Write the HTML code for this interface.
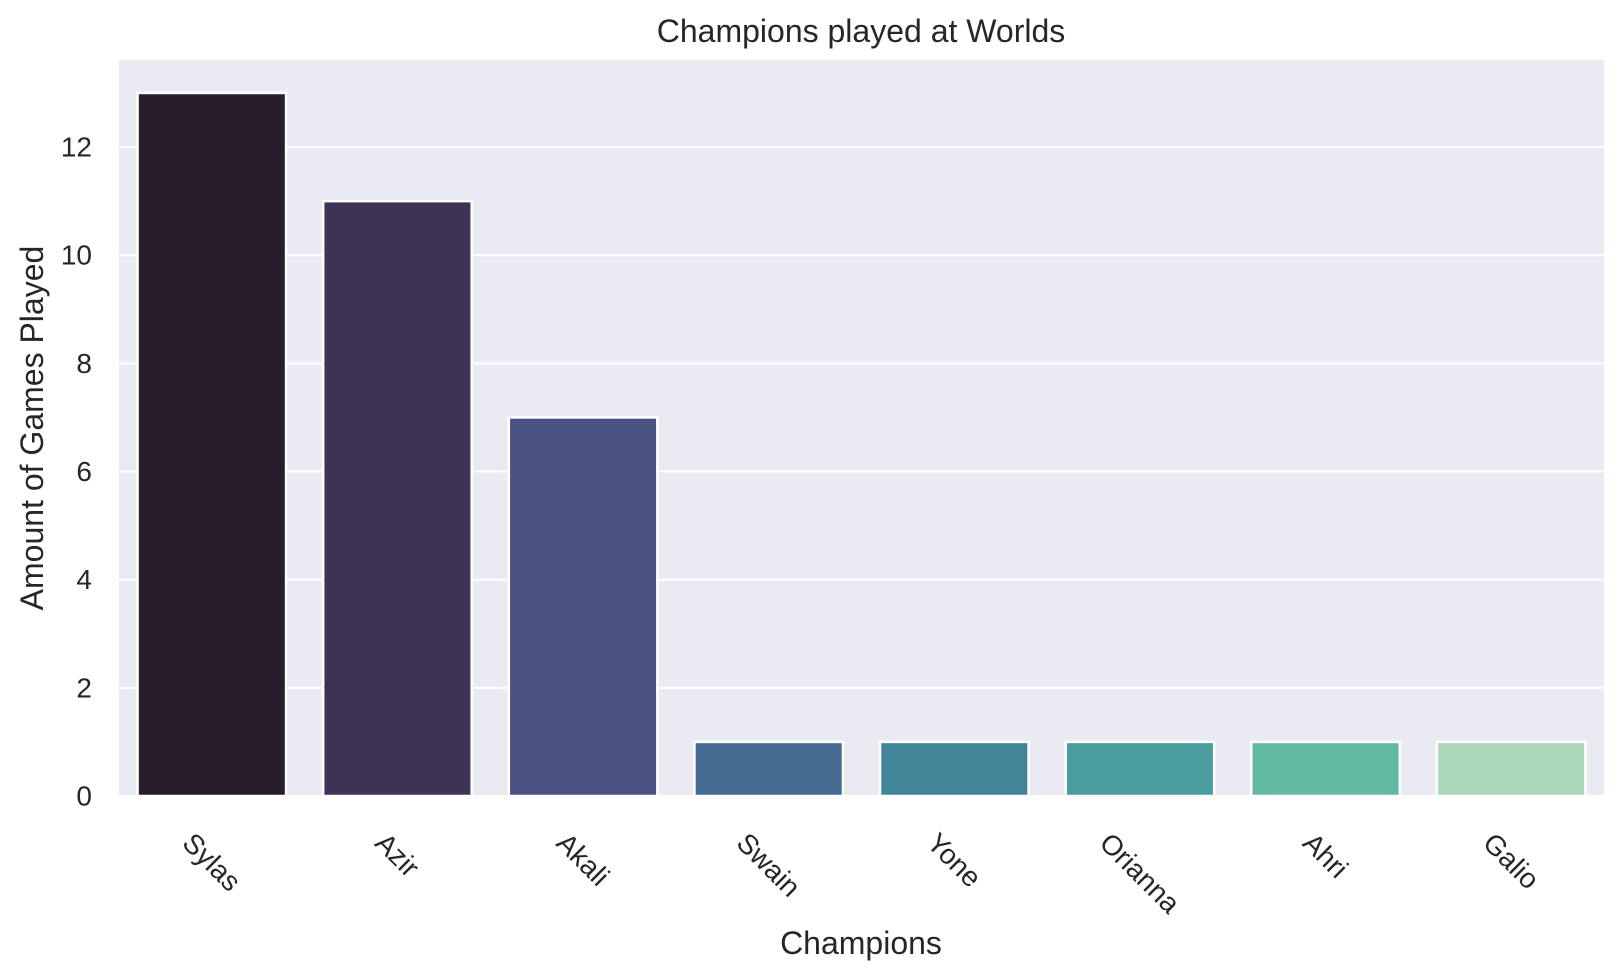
<!DOCTYPE html>
<html><head><meta charset="utf-8"><style>
body{margin:0;background:#fff}
svg{display:block;font-family:"Liberation Sans",sans-serif;fill:#262626}
</style></head><body>
<svg id="chart" width="1624" height="975">
<rect x="119" y="60" width="1485" height="736" fill="#eaeaf2"/>
<g id="grid"></g><g id="bars"></g><g id="yticks"></g><g id="xticks"></g>
<text x="861" y="42" text-anchor="middle" font-size="32">Champions played at Worlds</text>
<text x="861" y="954" text-anchor="middle" font-size="32">Champions</text>
<text transform="translate(43,428) rotate(-90)" text-anchor="middle" font-size="32">Amount of Games Played</text>
</svg>
<script>
const categories=["Sylas","Azir","Akali","Swain","Yone","Orianna","Ahri","Galio"];
const values=[13,11,7,1,1,1,1,1];
const colors=["#281d2b","#3e3354","#4a5284","#446a90","#428497","#4a9e9d","#62b9a2","#a9d7b7"];
const yTicks=[0,2,4,6,8,10,12];
const NS="http://www.w3.org/2000/svg";
const L=119,R=1604,T=60,B=796,YMAX=13.61;
const y=v=>B-v*(B-T)/YMAX;
const bw=(R-L)/categories.length;
const x=i=>L+bw*(i+0.5);
function mk(tag,attrs,parent){const e=document.createElementNS(NS,tag);for(const k in attrs)e.setAttribute(k,attrs[k]);document.getElementById(parent).appendChild(e);return e;}
yTicks.forEach(t=>{
 const g=mk("line",{x1:L,x2:R,y1:y(t),y2:y(t),stroke:"#fff","stroke-width":2},"grid");
 
 
 const l=mk("text",{x:L-27,y:y(t),"text-anchor":"end","dominant-baseline":"central","font-size":28},"yticks");
 l.textContent=t;
 
 
});
categories.forEach((c,i)=>{
 const w=bw*0.8;
 const b=mk("rect",{x:x(i)-w/2,y:y(values[i]),width:w,height:B-y(values[i]),fill:colors[i],stroke:"#fff","stroke-width":2.5},"bars");
 
 
 const t=mk("text",{x:x(i),y:0,"text-anchor":"middle","dominant-baseline":"central","font-size":28},"xticks");
 t.textContent=c;
 
 
 const len=t.getComputedTextLength();
 const cy=828+(len*0.707+28*0.707)/2;
 t.setAttribute("y",cy);
 t.setAttribute("transform",`rotate(45 ${x(i)} ${cy})`);
});
</script>
</body></html>
